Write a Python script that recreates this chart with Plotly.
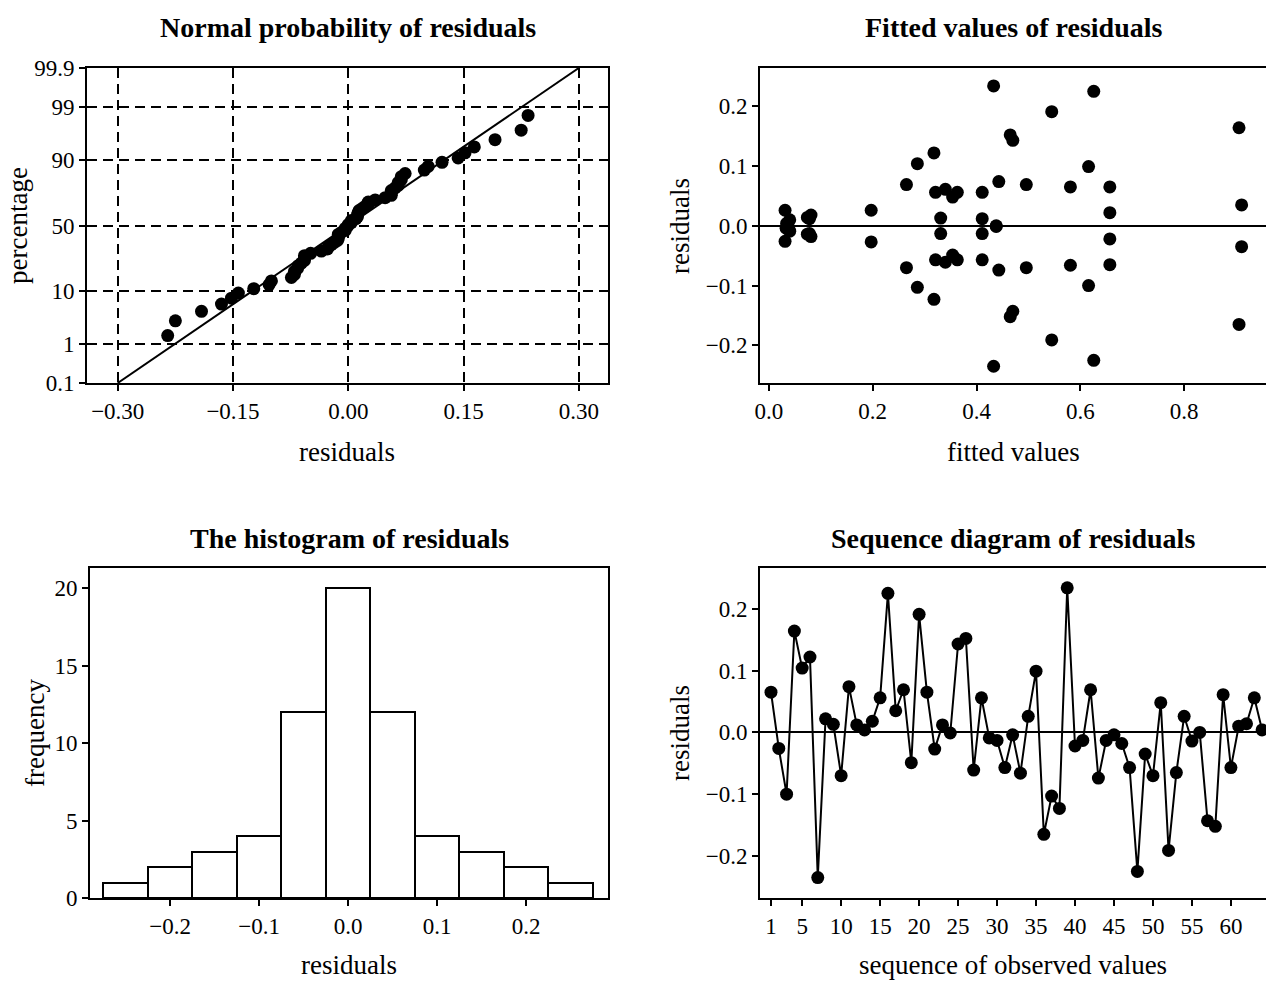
import plotly.graph_objects as go
from statistics import NormalDist

W, H = 1266, 981

# ---------------- data ----------------
residuals = [0.065, -0.026, -0.100, 0.164, 0.104, 0.122, -0.235, 0.022, 0.013, -0.070,
             0.074, 0.012, 0.004, 0.018, 0.056, 0.225, 0.035, 0.069, -0.049, 0.191,
             0.065, -0.027, 0.012, -0.001, 0.143, 0.152, -0.061, 0.056, -0.009, -0.013,
             -0.057, -0.004, -0.066, 0.026, 0.099, -0.165, -0.103, -0.123, 0.234, -0.022,
             -0.013, 0.069, -0.074, -0.013, -0.004, -0.018, -0.057, -0.225, -0.035, -0.070,
             0.048, -0.191, -0.065, 0.026, -0.014, 0.000, -0.143, -0.152, 0.061, -0.057,
             0.010, 0.014, 0.056, 0.004]

fitted = [0.581, 0.031, 0.616, 0.906, 0.286, 0.318, 0.433, 0.657, 0.331, 0.265,
          0.443, 0.411, 0.036, 0.081, 0.321, 0.626, 0.911, 0.265, 0.354, 0.545,
          0.657, 0.197, 0.078, 0.438, 0.470, 0.465, 0.340, 0.363, 0.040, 0.331,
          0.321, 0.033, 0.581, 0.031, 0.616, 0.906, 0.286, 0.318, 0.433, 0.657,
          0.411, 0.496, 0.443, 0.078, 0.038, 0.081, 0.363, 0.626, 0.911, 0.496,
          0.354, 0.545, 0.657, 0.197, 0.074, 0.438, 0.470, 0.465, 0.340, 0.411,
          0.040, 0.074, 0.411, 0.034]

sequence = list(range(1, len(residuals) + 1))

hist_centers = [-0.25, -0.20, -0.15, -0.10, -0.05, 0.00, 0.05, 0.10, 0.15, 0.20, 0.25]
hist_counts = [1, 2, 3, 4, 12, 20, 12, 4, 3, 2, 1]
hist_width = 0.05

prob_ticks = [0.1, 1, 10, 50, 90, 99, 99.9]
prob_labels = ["0.1", "1", "10", "50", "90", "99", "99.9"]
ref_line_x = [-0.30, 0.30]
ref_line_p = [0.1, 99.9]

np_xticks = [-0.30, -0.15, 0.0, 0.15, 0.30]
np_xlabels = ["\u22120.30", "\u22120.15", "0.00", "0.15", "0.30"]
fv_xticks = [0.0, 0.2, 0.4, 0.6, 0.8]
fv_xlabels = ["0.0", "0.2", "0.4", "0.6", "0.8"]
res_ticks = [-0.2, -0.1, 0.0, 0.1, 0.2]
res_labels = ["\u22120.2", "\u22120.1", "0.0", "0.1", "0.2"]
hist_yticks = [0, 5, 10, 15, 20]
seq_ticks = [1, 5, 10, 15, 20, 25, 30, 35, 40, 45, 50, 55, 60]

# ---------------- helpers ----------------
nd = NormalDist()
def z(p):
    return nd.inv_cdf(p / 100.0)

n = len(residuals)
sorted_res = sorted(residuals)
np_z = [nd.inv_cdf(i / (n + 1)) for i in range(1, n + 1)]

def px(x):
    return x / W

def py(y):
    return 1 - y / H

SERIF = "Liberation Serif"
tick_font = dict(family=SERIF, size=23, color="black")

def axis_common(**kw):
    d = dict(showline=True, linecolor="black", linewidth=2, mirror=True,
             ticks="outside", ticklen=6, tickwidth=2, tickcolor="black",
             showgrid=False, zeroline=False, tickfont=tick_font, automargin=False)
    d.update(kw)
    return d

fig = go.Figure()

MS = 13
# ----- panel 1: normal probability plot -----
fig.add_trace(go.Scatter(x=ref_line_x, y=[z(p) for p in ref_line_p], mode="lines",
                         line=dict(color="black", width=2), xaxis="x", yaxis="y",
                         showlegend=False, hoverinfo="skip"))
fig.add_trace(go.Scatter(x=sorted_res, y=np_z, mode="markers",
                         marker=dict(color="black", size=MS), xaxis="x", yaxis="y",
                         showlegend=False))

# ----- panel 2: fitted values -----
fig.add_trace(go.Scatter(x=fitted, y=residuals, mode="markers",
                         marker=dict(color="black", size=MS), xaxis="x2", yaxis="y2",
                         showlegend=False))

# ----- panel 3: histogram -----
fig.add_trace(go.Bar(x=hist_centers, y=hist_counts, width=[hist_width] * len(hist_counts),
                     marker=dict(color="white", line=dict(color="black", width=2)),
                     xaxis="x3", yaxis="y3", showlegend=False))

# ----- panel 4: sequence -----
fig.add_trace(go.Scatter(x=sequence, y=residuals, mode="lines+markers",
                         line=dict(color="black", width=2),
                         marker=dict(color="black", size=MS), xaxis="x4", yaxis="y4",
                         showlegend=False))

zr = z(99.9)
gridkw = dict(showgrid=True, gridcolor="black", gridwidth=2, griddash="10px,6px")

fig.update_layout(
    template="none",
    width=W, height=H,
    margin=dict(l=0, r=0, t=0, b=0, pad=0),
    paper_bgcolor="white", plot_bgcolor="white",
    font=dict(family=SERIF, color="black"),
    bargap=0,
    xaxis=axis_common(domain=[px(87), px(608)], anchor="y", range=[-0.34, 0.338],
                      tickvals=np_xticks, ticktext=np_xlabels, **gridkw),
    yaxis=axis_common(domain=[py(383), py(68)], anchor="x", range=[-zr, zr],
                      tickvals=[z(p) for p in prob_ticks], ticktext=prob_labels, **gridkw),
    xaxis2=axis_common(domain=[px(760), 1.0], anchor="y2", range=[-0.0173, 0.958],
                       tickvals=fv_xticks, ticktext=fv_xlabels),
    yaxis2=axis_common(domain=[py(383), py(68)], anchor="x2", range=[-0.263, 0.264],
                       tickvals=res_ticks, ticktext=res_labels,
                       zeroline=True, zerolinecolor="black", zerolinewidth=2),
    xaxis3=axis_common(domain=[px(90), px(608)], anchor="y3", range=[-0.29, 0.292],
                       tickvals=res_ticks, ticktext=res_labels),
    yaxis3=axis_common(domain=[py(898), py(568)], anchor="x3", range=[0, 21.3],
                       tickvals=hist_yticks),
    xaxis4=axis_common(domain=[px(760), 1.0], anchor="y4", range=[-0.41, 64.5],
                       tickvals=seq_ticks),
    yaxis4=axis_common(domain=[py(898), py(568)], anchor="x4", range=[-0.268, 0.266],
                       tickvals=res_ticks, ticktext=res_labels,
                       zeroline=True, zerolinecolor="black", zerolinewidth=2),
)

title_font = dict(family=SERIF, size=28, color="black")
label_font = dict(family=SERIF, size=27, color="black")

annotations = [
    dict(text="<b>Normal probability of residuals</b>", x=px(348), y=py(27), font=title_font),
    dict(text="<b>Fitted values of residuals</b>", x=px(1013), y=py(27), font=title_font),
    dict(text="<b>The histogram of residuals</b>", x=px(349), y=py(538), font=title_font),
    dict(text="<b>Sequence diagram of residuals</b>", x=px(1013), y=py(538), font=title_font),
    dict(text="residuals", x=px(347), y=py(452), font=label_font),
    dict(text="fitted values", x=px(1013), y=py(452), font=label_font),
    dict(text="residuals", x=px(349), y=py(965), font=label_font),
    dict(text="sequence of observed values", x=px(1013), y=py(965), font=label_font),
    dict(text="percentage", x=px(18), y=py(226), font=label_font, textangle=-90),
    dict(text="residuals", x=px(680), y=py(226), font=label_font, textangle=-90),
    dict(text="frequency", x=px(35), y=py(733), font=label_font, textangle=-90),
    dict(text="residuals", x=px(680), y=py(733), font=label_font, textangle=-90),
]
for a in annotations:
    a.update(xref="paper", yref="paper", showarrow=False, xanchor="center", yanchor="middle")
fig.update_layout(annotations=annotations)

fig.write_html("out.html", config={"displayModeBar": False},
               post_script="document.body.style.margin='0';")
